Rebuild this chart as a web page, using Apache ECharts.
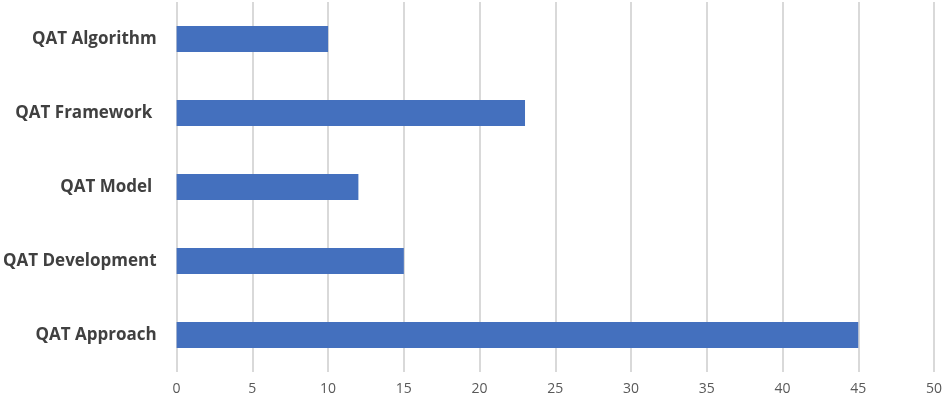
<!DOCTYPE html>
<html>
<head>
<meta charset="utf-8">
<script src="https://cdn.jsdelivr.net/npm/echarts@6/dist/echarts.min.js"></script>
<style>
  html, body { margin: 0; padding: 0; background: #fff; }
  #chart { width: 946px; height: 400px; }
</style>
</head>
<body>
<div id="chart"></div>
<script>
// categories bottom to top
const categories = ['QAT Approach', 'QAT Development', 'QAT Model ', 'QAT Framework ', 'QAT Algorithm']
const counts = [45, 15, 12, 23, 10]

const myChart = echarts.init(document.getElementById('chart'))
const option = {
  animation: false,
  grid: {
    left: 176,
    right: 12,
    top: 2,
    bottom: 28,
  },
  xAxis: {
    type: 'value',
    min: 0,
    max: 50,
    interval: 5,
    axisLine: { show: false },
    axisTick: { show: false },
    splitLine: { lineStyle: { color: '#d9d9d9', width: 2 } },
    axisLabel: {
      color: '#595959',
      fontSize: 14,
      fontFamily: 'Open Sans',
      margin: 10,
    },
  },
  yAxis: {
    type: 'category',
    data: categories,
    axisLine: { show: false },
    axisTick: { show: false },
    axisLabel: {
      color: '#404040',
      fontSize: 17,
      fontWeight: 'bold',
      fontFamily: 'Open Sans',
      margin: 20,
    },
  },
  series: [
    {
      type: 'bar',
      data: counts,
      barWidth: 26,
      itemStyle: { color: '#4470BE' },
    },
  ],
}
myChart.setOption(option)
</script>
</body>
</html>
